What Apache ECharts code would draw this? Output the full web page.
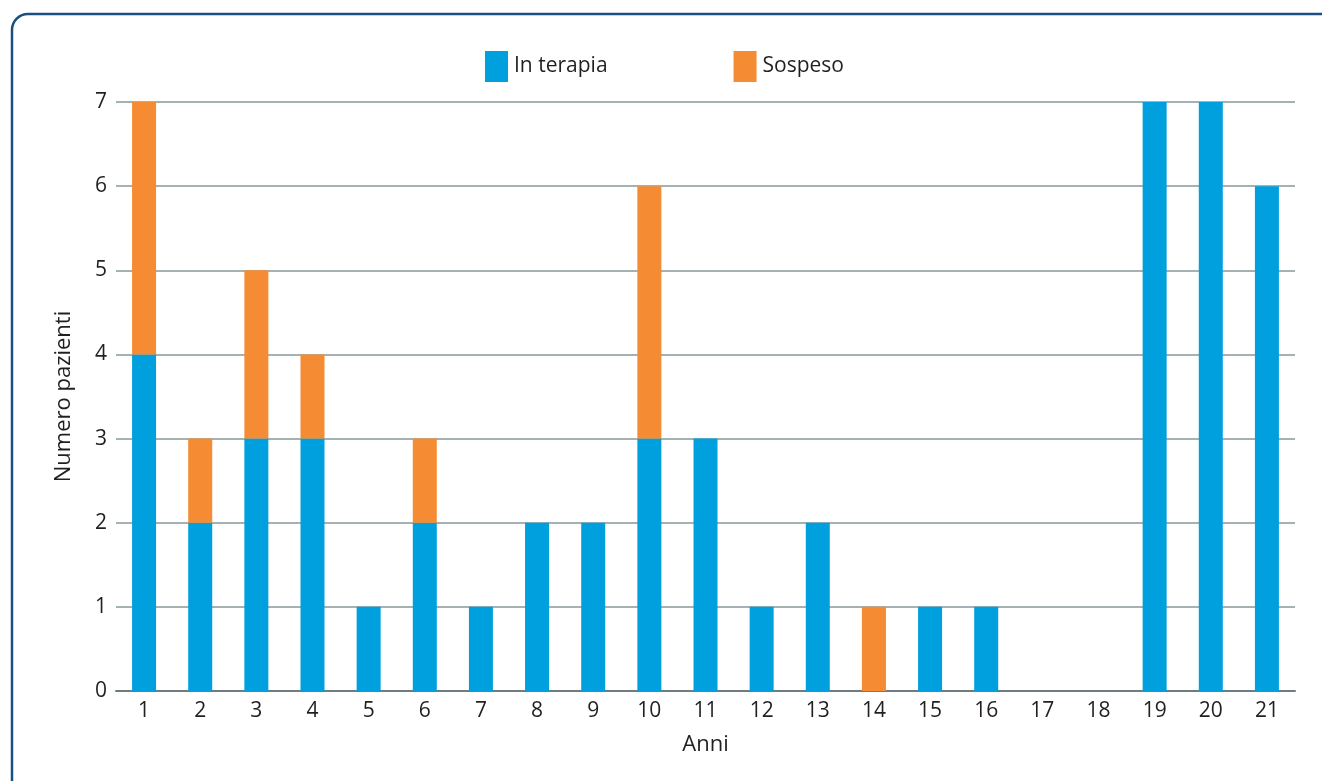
<!DOCTYPE html>
<html>
<head>
<meta charset="utf-8">
<script src="https://cdn.jsdelivr.net/npm/echarts@6/dist/echarts.min.js"></script>
<style>
  html, body { margin: 0; padding: 0; background: #fff; }
  #chart { width: 1322px; height: 781px; }
</style>
</head>
<body>
<div id="chart"></div>
<script>
// Years since start of therapy
const anni = ['1','2','3','4','5','6','7','8','9','10','11','12','13','14','15','16','17','18','19','20','21'];
// Patients still on therapy
const inTerapia = [4,2,3,3,1,2,1,2,2,3,3,1,2,0,1,1,0,0,7,7,6];
// Patients who stopped therapy
const sospeso =   [3,1,2,1,0,1,0,0,0,3,0,0,0,1,0,0,0,0,0,0,0];
const yTicks = [0,1,2,3,4,5,6,7];

const FONT = '"Open Sans", "Noto Sans", sans-serif';
const chart = echarts.init(document.getElementById('chart'), null, { renderer: 'canvas' });

chart.setOption({
  animation: false,
  textStyle: { fontFamily: FONT },
  graphic: [{
    type: 'rect',
    shape: { x: 12, y: 14, width: 1420, height: 900, r: 16 },
    style: { fill: 'none', stroke: '#1b4f7e', lineWidth: 2.5 },
    silent: true
  }],
  legend: {
    left: 480, top: 46,
    itemWidth: 23, itemHeight: 31, itemGap: 126,
    icon: 'rect',
    textStyle: { fontSize: 21, color: '#231f20', fontFamily: FONT, padding: [0, 0, 0, 1] },
    data: ['In terapia', 'Sospeso']
  },
  grid: { left: 116, right: 27, top: 102, bottom: 90, containLabel: false },
  xAxis: {
    type: 'category',
    data: anni,
    name: 'Anni',
    nameLocation: 'middle',
    nameGap: 43,
    nameTextStyle: { fontSize: 22, color: '#231f20', fontFamily: FONT },
    axisLine: { lineStyle: { color: '#6f7d80', width: 2 } },
    axisTick: { show: false },
    axisLabel: { fontSize: 21, color: '#231f20', margin: 10, fontFamily: FONT }
  },
  yAxis: {
    type: 'value',
    min: yTicks[0], max: yTicks[yTicks.length - 1], interval: 1,
    name: 'Numero pazienti',
    nameLocation: 'middle',
    nameGap: 41,
    nameTextStyle: { fontSize: 22, color: '#231f20', fontFamily: FONT },
    axisLine: { show: false },
    axisTick: { show: false },
    axisLabel: { fontSize: 21, color: '#231f20', margin: 9, fontFamily: FONT },
    splitLine: { lineStyle: { color: '#87979a', width: 1.5 } }
  },
  series: [
    {
      name: 'In terapia', type: 'bar', stack: 'tot',
      data: inTerapia, barWidth: 24,
      itemStyle: { color: '#00a0df' }
    },
    {
      name: 'Sospeso', type: 'bar', stack: 'tot',
      data: sospeso, barWidth: 24,
      itemStyle: { color: '#f58b32' }
    }
  ]
});
</script>
</body>
</html>
